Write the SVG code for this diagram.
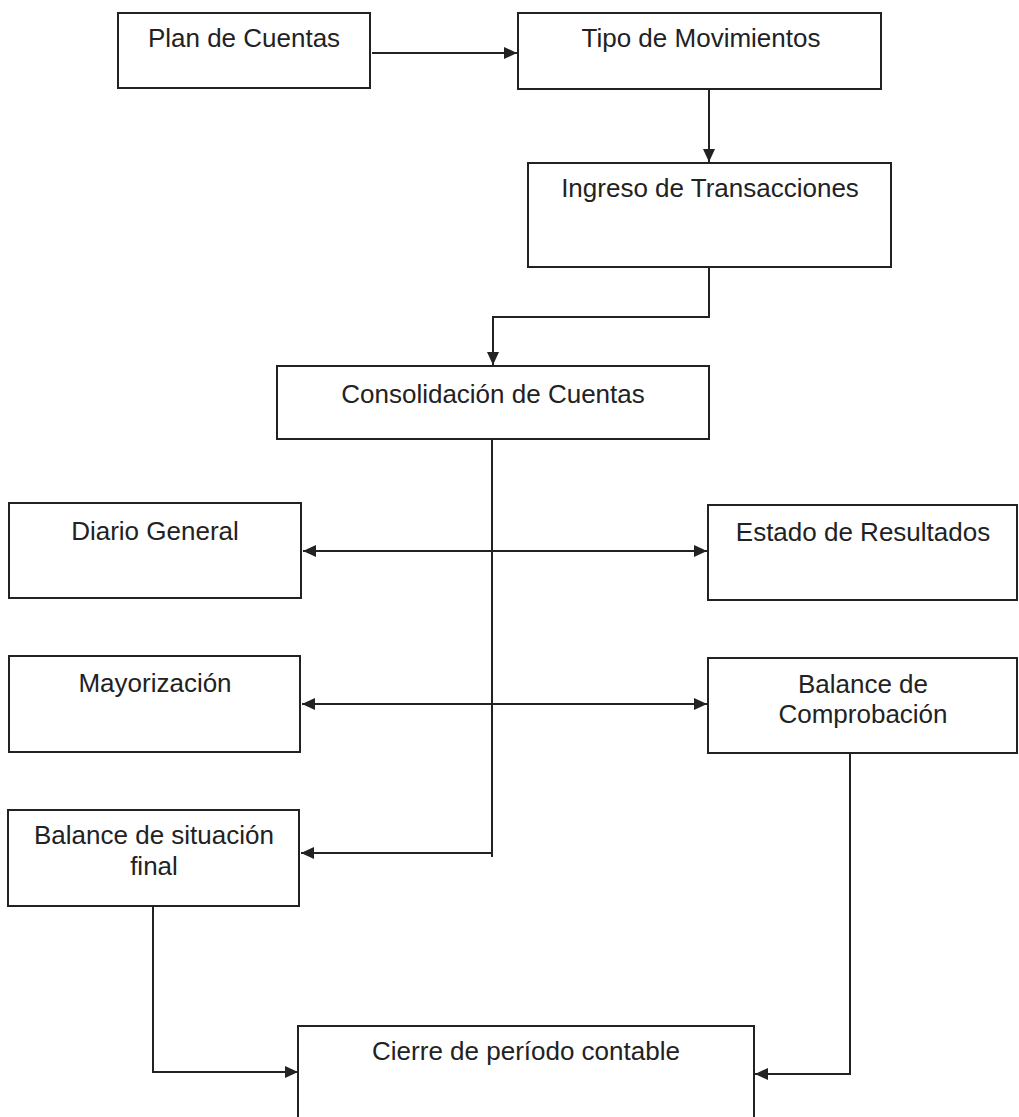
<svg xmlns="http://www.w3.org/2000/svg" width="1019" height="1117" viewBox="0 0 1019 1117">
  <style>
    .box { fill: #ffffff; stroke: #222222; stroke-width: 2; }
    .lbl { font-family: "Liberation Sans", Arial, sans-serif; font-size: 26px; fill: #222222; text-anchor: middle; }
    .conn { fill: none; stroke: #222222; stroke-width: 2; }
  </style>
  <defs>
    <marker id="arrow" markerUnits="userSpaceOnUse" markerWidth="14" markerHeight="12" refX="13" refY="6" orient="auto-start-reverse">
      <path d="M0,0 L13,6 L0,12 z" fill="#222222"/>
    </marker>
  </defs>
  <rect x="0" y="0" width="1019" height="1117" fill="#ffffff"/>

  <g id="connectors">
    <path class="conn" d="M372,53 H517" marker-end="url(#arrow)"/>
    <path class="conn" d="M709,89 V162" marker-end="url(#arrow)"/>
    <path class="conn" d="M709,267 V317 H493 V365" marker-end="url(#arrow)"/>
    <path class="conn" d="M492,439 V857"/>
    <path class="conn" d="M303,551 H707" marker-start="url(#arrow)" marker-end="url(#arrow)"/>
    <path class="conn" d="M302,704 H707" marker-start="url(#arrow)" marker-end="url(#arrow)"/>
    <path class="conn" d="M492,853 H301" marker-end="url(#arrow)"/>
    <path class="conn" d="M153,906 V1072 H298" marker-end="url(#arrow)"/>
    <path class="conn" d="M850,753 V1074 H755" marker-end="url(#arrow)"/>
  </g>

  <g id="plan-de-cuentas">
    <rect class="box" x="118" y="13" width="252" height="75"/>
    <text class="lbl" x="244" y="47">Plan de Cuentas</text>
  </g>
  <g id="tipo-de-movimientos">
    <rect class="box" x="518" y="13" width="363" height="76"/>
    <text class="lbl" x="701" y="47">Tipo de Movimientos</text>
  </g>
  <g id="ingreso-de-transacciones">
    <rect class="box" x="528" y="163" width="363" height="104"/>
    <text class="lbl" x="710" y="197">Ingreso de Transacciones</text>
  </g>
  <g id="consolidacion-de-cuentas">
    <rect class="box" x="277" y="366" width="432" height="73"/>
    <text class="lbl" x="493" y="403">Consolidación de Cuentas</text>
  </g>
  <g id="diario-general">
    <rect class="box" x="9" y="503" width="292" height="95"/>
    <text class="lbl" x="155" y="540">Diario General</text>
  </g>
  <g id="estado-de-resultados">
    <rect class="box" x="708" y="505" width="309" height="95"/>
    <text class="lbl" x="863" y="541">Estado de Resultados</text>
  </g>
  <g id="mayorizacion">
    <rect class="box" x="9" y="656" width="291" height="96"/>
    <text class="lbl" x="155" y="692">Mayorización</text>
  </g>
  <g id="balance-de-comprobacion">
    <rect class="box" x="708" y="658" width="309" height="95"/>
    <text class="lbl" x="863" y="693">Balance de</text>
    <text class="lbl" x="863" y="723">Comprobación</text>
  </g>
  <g id="balance-de-situacion-final">
    <rect class="box" x="8" y="810" width="291" height="96"/>
    <text class="lbl" x="154" y="844">Balance de situación</text>
    <text class="lbl" x="154" y="875">final</text>
  </g>
  <g id="cierre-de-periodo-contable">
    <rect class="box" x="298" y="1026" width="456" height="110"/>
    <text class="lbl" x="526" y="1060">Cierre de período contable</text>
  </g>
</svg>
